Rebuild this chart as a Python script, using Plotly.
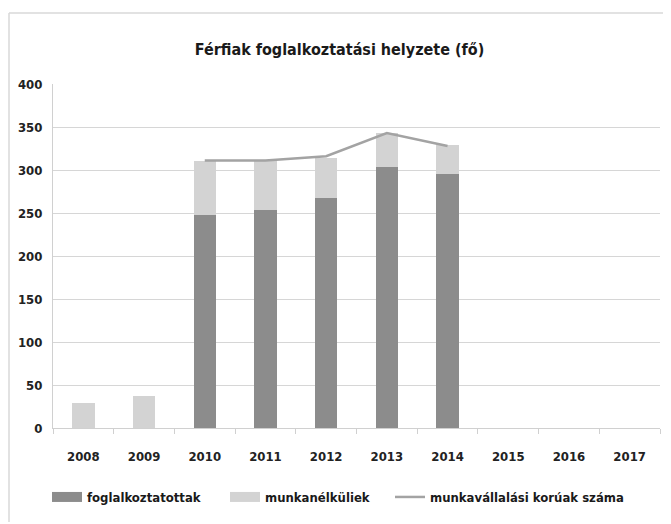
import plotly.graph_objects as go

years = ["2008", "2009", "2010", "2011", "2012", "2013", "2014", "2015", "2016", "2017"]
employed = [0, 0, 248, 253, 267, 304, 295, None, None, None]
unemployed = [29, 37, 63, 58, 47, 39, 34, None, None, None]
working_age = [None, None, 311, 311, 316, 343, 328, None, None, None]
y_ticks = [0, 50, 100, 150, 200, 250, 300, 350, 400]

FONT = "DejaVu Sans Condensed"
DARK = "#8c8c8c"
LIGHT = "#d3d3d3"
LINE = "#a3a3a3"

# the page adds an 8px body margin, so the figure is sized to fit the window
W, H = 663, 516
L, R, T, B = 45, 11, 76, 96

fig = go.Figure()
fig.add_trace(go.Bar(x=years, y=employed, name="foglalkoztatottak", showlegend=False,
                     marker=dict(color=DARK, line=dict(width=0)), width=0.37))
fig.add_trace(go.Bar(x=years, y=unemployed, name="munkanélküliek", showlegend=False,
                     marker=dict(color=LIGHT, line=dict(width=0)), width=0.37))
fig.add_trace(go.Scatter(x=years, y=working_age, name="munkavállalási korúak száma",
                         mode="lines", line=dict(color=LINE, width=2.5), showlegend=False))
# legend entries (wide swatches like the original), each in its own legend
fig.add_trace(go.Scatter(x=[None], y=[None], name="foglalkoztatottak", mode="lines",
                         line=dict(color=DARK, width=10), legend="legend"))
fig.add_trace(go.Scatter(x=[None], y=[None], name="munkanélküliek", mode="lines",
                         line=dict(color=LIGHT, width=10), legend="legend2"))
fig.add_trace(go.Scatter(x=[None], y=[None], name="munkavállalási korúak száma", mode="lines",
                         line=dict(color=LINE, width=2.5), legend="legend3"))

leg_font = dict(family=FONT, size=13, color="#1a1a1a", weight="bold")


def leg(xpx):
    return dict(orientation="h", x=xpx / W, xanchor="left", xref="container",
                y=1 - 489 / H, yref="container", yanchor="middle",
                font=leg_font, itemwidth=30, bgcolor="rgba(0,0,0,0)")


pw, ph = W - L - R, H - T - B

fig.update_layout(
    width=W, height=H,
    barmode="stack",
    paper_bgcolor="white", plot_bgcolor="white",
    margin=dict(l=L, r=R, t=T, b=B),
    font=dict(family=FONT, size=13, color="#222222"),
    title=dict(text="Férfiak foglalkoztatási helyzete (fő)", x=0.5, xanchor="center",
               y=1 - 41 / H, yanchor="middle",
               font=dict(family=FONT, size=16, color="#1a1a1a", weight="bold")),
    showlegend=True,
    legend=leg(39), legend2=leg(217), legend3=leg(382),
    shapes=[
        dict(type="line", xref="paper", yref="paper", x0=-(L - 1) / pw, x1=-(L - 1) / pw,
             y0=-(B - 2) / ph, y1=1 + (T - 5) / ph, line=dict(color="#d8d8d8", width=1.5),
             layer="below"),
        dict(type="line", xref="paper", yref="paper", x0=-(L - 1) / pw, x1=1 + (R - 1) / pw,
             y0=1 + (T - 5) / ph, y1=1 + (T - 5) / ph, line=dict(color="#d8d8d8", width=1.5),
             layer="below"),
    ],
)
fig.update_xaxes(showgrid=False, showline=True, linecolor="#d0d0d0", linewidth=1,
                 ticks="outside", ticklen=5, tickcolor="#d0d0d0",
                 tickson="boundaries", ticklabelstandoff=16,
                 tickfont=dict(family=FONT, size=13, color="#222222", weight="bold"))
fig.update_yaxes(range=[0, 400], tickvals=y_ticks, showgrid=True, gridcolor="#d6d6d6",
                 gridwidth=1, showline=True, linecolor="#d0d0d0", zeroline=False,
                 ticklabelstandoff=7,
                 tickfont=dict(family=FONT, size=13, color="#222222", weight="bold"), ticks="")

fig.write_html("out.html")
